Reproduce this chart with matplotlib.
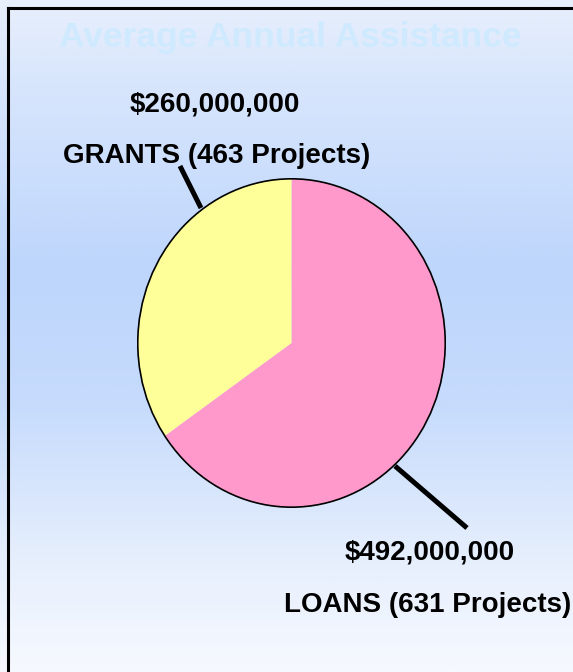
import numpy as np
import matplotlib
matplotlib.use("Agg")
import matplotlib.pyplot as plt
from matplotlib.patches import Circle
from matplotlib.colors import LinearSegmentedColormap

# Datos del grafico
categorias = ["LOANS", "GRANTS"]
montos = [492000000, 260000000]
proyectos = [631, 463]
colores = ["#ff99cc", "#ffff99"]
titulo = "Average Annual Assistance"

W, H = 573, 672
fig = plt.figure(figsize=(W / 100, H / 100), dpi=100)


def px(x, y):
    # pixeles (origen arriba-izquierda) a fraccion de figura
    return x / W, 1 - y / H


# Fondo degradado vertical
fondo = fig.add_axes([0, 0, 1, 1])
fondo.set_axis_off()
cmap = LinearSegmentedColormap.from_list(
    "fondo",
    [(0.0, "#e8effc"), (0.12, "#d8e6fc"), (0.40, "#bed6fc"),
     (0.60, "#c6dbfc"), (0.85, "#e8f0fd"), (1.0, "#f6f9ff")])
grad = np.linspace(0, 1, 512).reshape(-1, 1)
fondo.imshow(grad, cmap=cmap, aspect="auto", extent=[0, 1, 0, 1])
fondo.set_xlim(0, 1)
fondo.set_ylim(0, 1)

# Marco
x0, y0 = px(8, 8)
fig.add_artist(plt.Line2D([x0, x0], [0, y0], color="black", lw=2.2, transform=fig.transFigure))
fig.add_artist(plt.Line2D([x0, 1], [y0, y0], color="black", lw=2.2, transform=fig.transFigure))

# Titulo
fig.text(*px(290, 37), titulo, ha="center", va="center", fontsize=25.5,
         fontweight="bold", color="#cfeaff", family="Liberation Sans")

# Pastel (ligeramente eliptico)
l, b = px(137, 508)
ax = fig.add_axes([l, b, 309 / W, 330 / H])
ax.pie(montos, colors=colores, startangle=90, counterclock=False,
       wedgeprops=dict(linewidth=0))
ax.add_patch(Circle((0, 0), 1, fill=False, edgecolor="black", lw=1.2))
ax.set_aspect("auto")
ax.set_xlim(-1.005, 1.005)
ax.set_ylim(-1.005, 1.005)
ax.set_axis_off()

# Lineas guia
for (xa, ya), (xb, yb) in [((201, 208), (180, 166)), ((395, 466), (467, 528))]:
    xs, ys = zip(px(xa, ya), px(xb, yb))
    fig.add_artist(plt.Line2D(xs, ys, color="black", lw=3.6,
                              solid_capstyle="butt", transform=fig.transFigure))

# Etiquetas
etiquetas = {"GRANTS": [(215, 104), (217, 156)], "LOANS": [(430, 553), (428, 605)]}
for cat, monto, proy in zip(categorias, montos, proyectos):
    (xm, ym), (xc, yc) = etiquetas[cat]
    fig.text(*px(xm, ym), f"${monto:,}", ha="center", va="center", fontsize=20,
             fontweight="bold", family="Liberation Sans")
    fig.text(*px(xc, yc), f"{cat} ({proy} Projects)", ha="center", va="center",
             fontsize=20, fontweight="bold", family="Liberation Sans")

fig.savefig("out.png", dpi=100)
